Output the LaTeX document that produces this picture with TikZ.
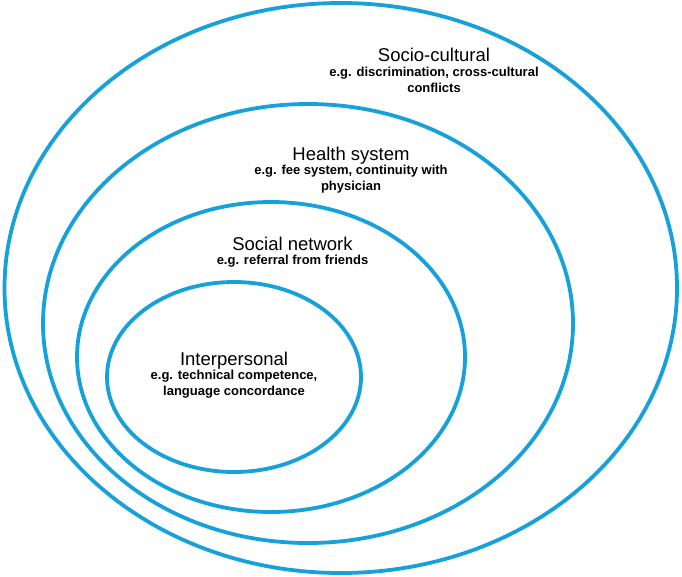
\documentclass[tikz,border=0pt]{standalone}
\usepackage{fontspec}
\setmainfont{Liberation Sans}
\usetikzlibrary{positioning}

\definecolor{ringblue}{RGB}{22,161,219}

\begin{document}
\begin{tikzpicture}
  [x=1pt,y=-1pt,
   ring/.style={draw=ringblue, line width=3.8pt},
   title/.style={inner sep=0pt, anchor=base, text height=14pt, text depth=4pt,
     font=\fontsize{18.5}{22}\selectfont},
   sub/.style={inner sep=0pt, align=center,
     font=\fontsize{13}{16.5}\selectfont\bfseries}]
  \useasboundingbox (0,0) rectangle (682,576);

  % the four rings, outer to inner
  \foreach \cx/\cy/\rx/\ry in {340.75/288/336.25/285, 308/323.5/265/219.5,
                               271/357/194/155, 234/377/127/95}
    \draw[ring] (\cx,\cy) ellipse [x radius=\rx, y radius=\ry];

  \node[title] (socio) at (434,61.7) {Socio-cultural};
  \node[sub, below=0.5pt of socio] (socio-eg) {e.g. discrimination, cross-cultural\\conflicts};

  \node[title] (health) at (351,160) {Health system};
  \node[sub, below=0.5pt of health] (health-eg) {e.g. fee system, continuity with\\physician};

  \node[title] (social) at (292.5,250) {Social network};
  \node[sub, below=0.5pt of social] (social-eg) {e.g. referral from friends};

  \node[title] (inter) at (234,365) {Interpersonal};
  \node[sub, below=0.5pt of inter] (inter-eg) {e.g. technical competence,\\language concordance};
\end{tikzpicture}
\end{document}
